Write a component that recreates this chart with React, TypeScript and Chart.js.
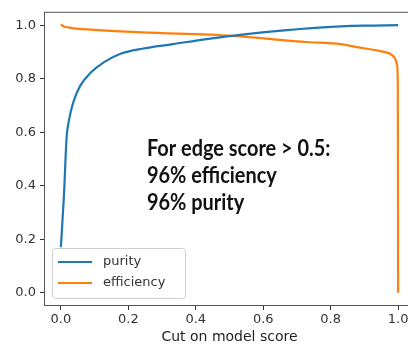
import React, { useEffect, useRef } from "react";
import { Chart, registerables } from "chart.js";

Chart.register(...registerables);

const purityX = [0.0, 0.009, 0.017, 0.022, 0.03, 0.039, 0.058, 0.088, 0.128, 0.177, 0.241, 0.332, 0.432, 0.507, 0.629, 0.777, 0.9, 1.0];
const purityY = [0.17, 0.36, 0.58, 0.63, 0.68, 0.72, 0.775, 0.822, 0.862, 0.893, 0.912, 0.929, 0.948, 0.96, 0.977, 0.992, 0.998, 1.0];

const efficiencyX = [0.0, 0.006, 0.014, 0.03, 0.048, 0.147, 0.241, 0.507, 0.729, 0.828, 0.887, 0.947, 0.976, 0.991, 0.997, 0.999, 1.0];
const efficiencyY = [1.003, 0.997, 0.993, 0.99, 0.987, 0.979, 0.973, 0.96, 0.937, 0.929, 0.916, 0.903, 0.893, 0.876, 0.85, 0.78, 0.0];

const seriesLabels = ["purity", "efficiency"];
const seriesColors = ["#1f77b4", "#ff7f0e"];
const tickValues = [0, 0.2, 0.4, 0.6, 0.8, 1.0];
const xTitle = "Cut on model score";
const noteLines = ["For edge score > 0.5:", "96% efficiency", "96% purity"];

const framePlugin = {
  id: "frameAndExtras",
  afterDatasetsDraw(chart: any) {
    const { ctx, chartArea } = chart;
    ctx.save();
    // frame
    ctx.strokeStyle = "#555";
    ctx.lineWidth = 1;
    ctx.strokeRect(chartArea.left + 0.5, chartArea.top + 0.5, chartArea.right - chartArea.left - 1, chartArea.bottom - chartArea.top - 1);

    // annotation text
    ctx.save();
    ctx.fillStyle = "#111";
    ctx.font = "bold 22px Lato";
    ctx.textAlign = "left";
    ctx.textBaseline = "alphabetic";
    const tx = 147;
    const baselines = [156, 183, 210];
    ctx.translate(tx, 0);
    ctx.scale(0.905, 1);
    noteLines.forEach((t, i) => ctx.fillText(t, 0, baselines[i]));
    ctx.restore();

    // legend
    const lx = 52, ly = 248, lw = 133, lh = 50;
    ctx.fillStyle = "rgba(255,255,255,0.85)";
    ctx.strokeStyle = "#d0d0d0";
    ctx.lineWidth = 1;
    ctx.beginPath();
    const r = 3;
    const x0 = lx + 0.5, y0 = ly + 0.5, x1 = lx + lw + 0.5, y1 = ly + lh + 0.5;
    ctx.moveTo(x0 + r, y0);
    ctx.lineTo(x1 - r, y0);
    ctx.arcTo(x1, y0, x1, y0 + r, r);
    ctx.lineTo(x1, y1 - r);
    ctx.arcTo(x1, y1, x1 - r, y1, r);
    ctx.lineTo(x0 + r, y1);
    ctx.arcTo(x0, y1, x0, y1 - r, r);
    ctx.lineTo(x0, y0 + r);
    ctx.arcTo(x0, y0, x0 + r, y0, r);
    ctx.closePath();
    ctx.fill();
    ctx.stroke();
    const rows = [262, 283];
    chart.data.datasets.forEach((ds: any, i: number) => {
      ctx.strokeStyle = ds.borderColor;
      ctx.lineWidth = 2.2;
      ctx.beginPath();
      ctx.moveTo(58, rows[i]);
      ctx.lineTo(92, rows[i]);
      ctx.stroke();
      ctx.fillStyle = "#333";
      ctx.font = "13px 'DejaVu Sans'";
      ctx.textBaseline = "middle";
      ctx.fillText(ds.label, 103, rows[i]);
    });
    ctx.restore();
  },
};

export default function App() {
  const ref = useRef<HTMLCanvasElement | null>(null);
  useEffect(() => {
    if (!ref.current) return;
    const mk = (xs: number[], ys: number[]) => xs.map((x, i) => ({ x, y: ys[i] }));
    const fixTicks = (scale: any) => {
      scale.ticks = tickValues.map((v) => ({ value: v }));
    };
    const chart = new Chart(ref.current, {
      type: "line",
      data: {
        datasets: [
          {
            label: seriesLabels[0],
            data: mk(purityX, purityY),
            borderColor: seriesColors[0],
            backgroundColor: seriesColors[0],
            borderWidth: 2.2,
            pointRadius: 0,
            cubicInterpolationMode: "monotone",
          },
          {
            label: seriesLabels[1],
            data: mk(efficiencyX, efficiencyY),
            borderColor: seriesColors[1],
            backgroundColor: seriesColors[1],
            borderWidth: 2.2,
            pointRadius: 0,
            cubicInterpolationMode: "monotone",
          },
        ],
      },
      options: {
        animation: false,
        responsive: false,
        devicePixelRatio: 1,
        layout: { padding: { left: 0, right: 15, top: 11, bottom: 0 } },
        plugins: { legend: { display: false }, tooltip: { enabled: false } },
        scales: {
          x: {
            type: "linear",
            min: -0.05,
            max: 1.05,
            afterBuildTicks: fixTicks,
            afterFit: (s: any) => { s.height = 39; },
            grid: { drawOnChartArea: false, drawTicks: true, tickLength: 4, color: "#333", lineWidth: 1 },
            border: { display: false },
            ticks: {
              padding: 2,
              color: "#333",
              font: { family: "DejaVu Sans", size: 13 },
              callback: (v: any) => Number(v).toFixed(1),
              maxRotation: 0,
            },
            title: {
              display: true,
              text: xTitle,
              color: "#222",
              font: { family: "DejaVu Sans", size: 14, lineHeight: 1.1 },
              padding: { top: 0, bottom: 0 },
            },
          },
          y: {
            type: "linear",
            min: -0.05,
            max: 1.05,
            afterBuildTicks: fixTicks,
            afterFit: (s: any) => { s.width = 44; },
            grid: { drawOnChartArea: false, drawTicks: true, tickLength: 4, color: "#333", lineWidth: 1 },
            border: { display: false },
            ticks: {
              padding: 4,
              color: "#333",
              font: { family: "DejaVu Sans", size: 13 },
              callback: (v: any) => Number(v).toFixed(1),
            },
          },
        },
      },
      plugins: [framePlugin],
    } as any);
    return () => chart.destroy();
  }, []);
  return (
    <div style={{ position: "absolute", left: 0, top: 0, width: 408, height: 345, overflow: "hidden", background: "#fff" }}>
      <canvas ref={ref} width={430} height={345} style={{ display: "block" }} />
    </div>
  );
}
